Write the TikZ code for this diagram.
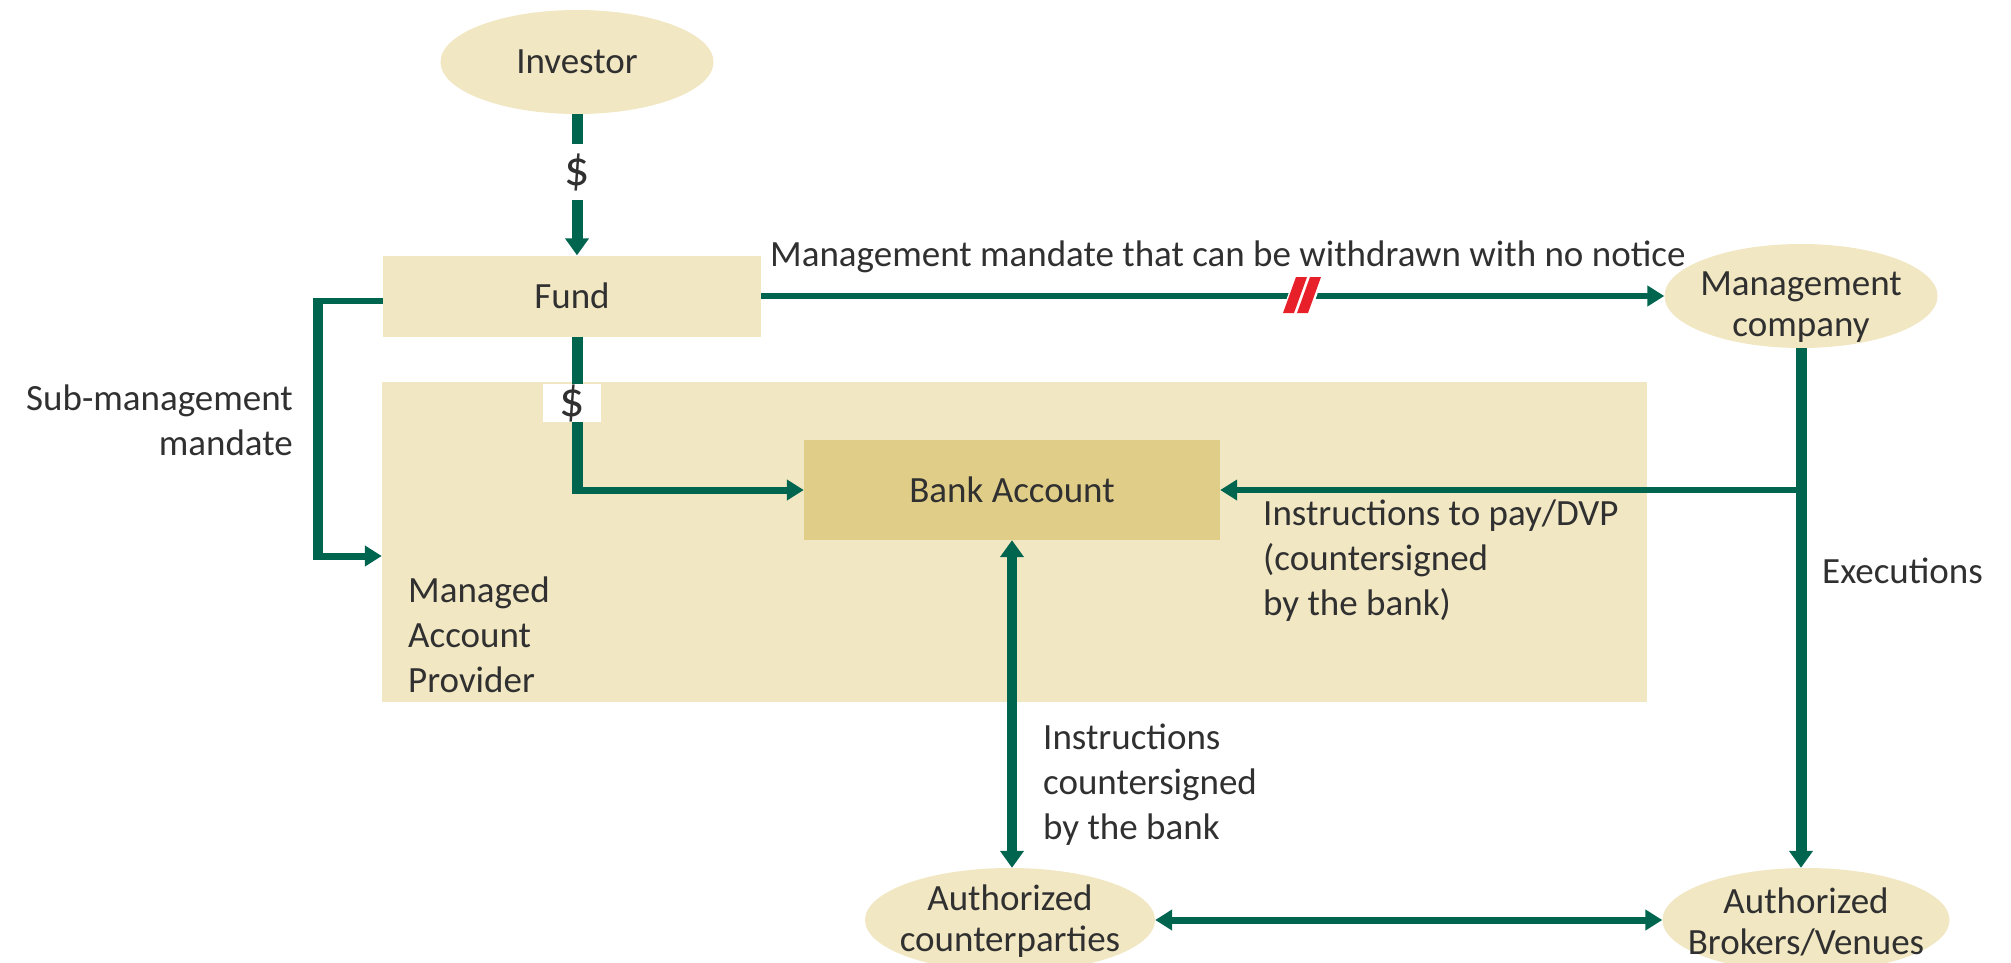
\documentclass[tikz,border=0pt]{standalone}
\usepackage{fontspec}
\setmainfont{Carlito}
\usetikzlibrary{shapes.geometric,arrows.meta,calc}
\definecolor{flow}{HTML}{00654F}
\definecolor{sand}{HTML}{F1E7C3}
\definecolor{bankfill}{HTML}{E0CD88}
\definecolor{ink}{HTML}{303030}
\definecolor{cut}{HTML}{E8202A}

\begin{document}
\begin{tikzpicture}[x=1pt,y=-1pt,
  every node/.style={text=ink, font=\fontsize{37}{45}\selectfont},
  party/.style={ellipse, fill=sand, minimum width=273pt, minimum height=104pt, inner sep=0pt},
  caption/.style n args={2}{label={[align=center, inner sep=0pt, yshift=#1]center:#2}},
  panel/.style={rectangle, inner sep=0pt},
  vflow/.style={draw=flow, line width=11pt},
  hflow/.style={draw=flow, line width=7pt},
  vtip/.style={-{Triangle[width=23pt,length=17pt]}},
  htip/.style={-{Triangle[width=20pt,length=17pt]}},
  vboth/.style={{Triangle[width=23pt,length=17pt]}-{Triangle[width=23pt,length=17pt]}},
  hboth/.style={{Triangle[width=20pt,length=17pt]}-{Triangle[width=20pt,length=17pt]}},
  money/.style={fill=white, inner sep=0pt, font=\fontsize{50}{50}\selectfont},
  note/.style={inner sep=0pt, align=left}]

\useasboundingbox (0,0) rectangle (2011,963);
\clip (0,0) rectangle (2011,963);

% containers and parties
\node[panel, fill=sand, minimum width=1265pt, minimum height=320pt] (map) at (1014.5,542) {};
\node[panel, fill=sand, minimum width=378pt, minimum height=81pt] (fund) at (572,296) {Fund};
\node[panel, fill=bankfill, minimum width=416pt, minimum height=100pt] (bank) at (1012,490) {Bank Account};
\node[party] (inv) at (577,62) {Investor};
\node[party, caption={-11pt}{Management\\[-4pt]company}] (mgmt) at (1801,296) {};
\node[party, minimum width=290pt, caption={-1.5pt}{Authorized\\[-4pt]counterparties}] (cpty) at (1010,920) {};
\node[party, minimum width=287pt, caption={-1.5pt}{Authorized\\[-4pt]Brokers/Venues}] (brok) at (1806,920) {};

% investor subscribes into the fund
\draw[vflow, vtip] (inv.south) -- (inv.south |- fund.north);
\node[money, minimum width=40pt, minimum height=55pt] (usd1) at (577,172) {\$};

% fund cash into the bank account
\coordinate (drop) at (inv.south |- bank.west);
\draw[hflow, htip] (drop) -- (bank.west);
\draw[vflow] (inv.south |- fund.south) -- ([yshift=-3.5pt]drop);
\node[money, minimum width=58pt, minimum height=37pt] (usd2) at (572,403) {\$};

% management mandate, revocable at any time
\draw[hflow, htip, line width=6pt] (fund.east) -- (mgmt.west);
\node[anchor=base west, inner sep=0pt] (mandate) at (770,266) {Management mandate that can be withdrawn with no notice};
\fill[white] (1281,315) -- (1310,315) -- (1324,275) -- (1295,275) -- cycle;
\fill[cut] (1283,313) -- (1294,313) -- (1307,277) -- (1296,277) -- cycle;
\fill[cut] (1297,313) -- (1308,313) -- (1321,277) -- (1310,277) -- cycle;

% sub-management mandate to the managed account provider
\coordinate (subin) at ([yshift=-14pt]map.west);
\coordinate (subtop) at (318,301);
\draw[hflow, line width=6pt] ([yshift=-5pt]fund.west) -- ([xshift=-3pt]subtop);
\draw[hflow, htip] (subtop |- subin) -- (subin);
\draw[vflow, line width=10pt] ([yshift=3pt]subtop) -- ([yshift=-3.5pt]subtop |- subin);
\node[note, anchor=north east, align=right] (sublbl) at (293,385) {Sub-management\\mandate};
\node[note, anchor=north west] (maplbl) at (408,577) {Managed\\Account\\Provider};

% management company to brokers, with payment instructions to the bank
\draw[vflow, vtip] (mgmt.south) -- (mgmt.south |- brok.north);
\coordinate (split) at (mgmt.south |- bank.east);
\draw[hflow, htip, line width=6pt] (split) -- (bank.east);
\node[note, anchor=north west] (paylbl) at (1263,500) {Instructions to pay/DVP\\(countersigned\\by the bank)};
\node[note, anchor=west] (execlbl) at (1822,571) {Executions};

% bank to counterparties, counterparties to brokers
\draw[vflow, vboth, line width=10pt] (bank.south) -- (bank.south |- cpty.north);
\node[note, anchor=north west] (cslbl) at (1043,724) {Instructions\\countersigned\\by the bank};
\draw[hflow, hboth] (cpty.east) -- (brok.west);
\end{tikzpicture}
\end{document}
